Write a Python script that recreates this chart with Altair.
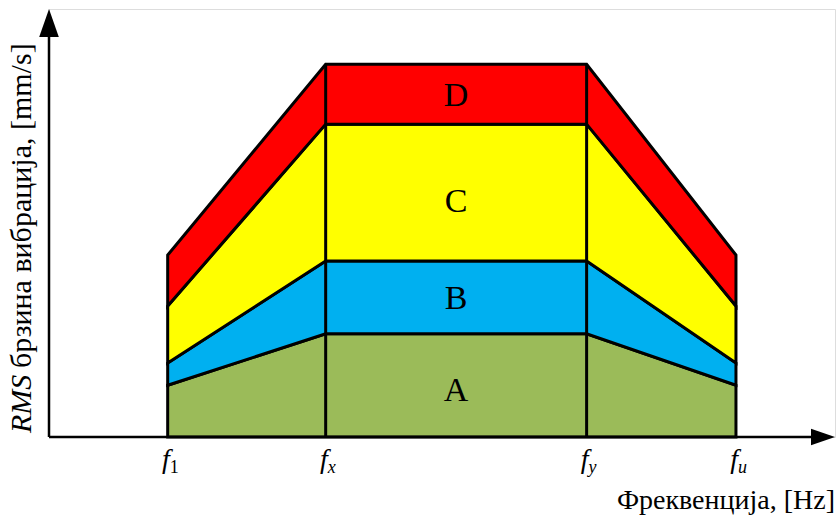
import altair as alt
import pandas as pd

# Frequency break points along the horizontal axis (axis runs 0..100)
freqs = [15.1, 35.2, 68.4, 87.4]
freq_subs = ["1", "x", "y", "u"]
sub_italic = [False, True, True, True]

# Upper boundary of each vibration zone at the four break points (axis runs 0..100)
bands = ["A", "B", "C", "D"]
band_colors = ["#9BBB59", "#00B0F0", "#FFFF00", "#FF0000"]
a_top = [12.1, 24.1, 24.1, 12.1]
b_top = [17.3, 41.1, 41.1, 17.3]
c_top = [30.6, 73.1, 73.1, 30.6]
d_top = [42.5, 87.1, 87.1, 42.5]

# Zone letters: placed midway between fx and fy, baseline height on the y scale
label_y = [8.4, 29.9, 52.6, 77.3]

FONT = "Times New Roman, Liberation Serif, serif"

tops = [a_top, b_top, c_top, d_top]
rows = []
for i, band in enumerate(bands):
    lower = [0.0] * len(freqs) if i == 0 else tops[i - 1]
    for x, lo, hi in zip(freqs, lower, tops[i]):
        rows.append({"band": band, "x": x, "lo": lo, "hi": hi, "order": i})
zones = pd.DataFrame(rows)

xs = alt.Scale(domain=[0, 100], zero=False, nice=False)
ys = alt.Scale(domain=[0, 100], zero=False, nice=False)

areas = alt.Chart(zones).mark_area(
    stroke="black", strokeWidth=3, strokeJoin="miter", opacity=1
).encode(
    x=alt.X("x:Q", scale=xs, axis=None),
    y=alt.Y("lo:Q", scale=ys, axis=None),
    y2="hi:Q",
    fill=alt.Fill("band:N", scale=alt.Scale(domain=bands, range=band_colors), legend=None),
    order="order:Q",
)

# interior dividers at fx and fy
dividers = pd.DataFrame({"x": freqs[1:3], "y0": [0, 0], "y1": d_top[1:3]})
div_rules = alt.Chart(dividers).mark_rule(color="black", strokeWidth=3).encode(
    x=alt.X("x:Q", scale=xs), y=alt.Y("y0:Q", scale=ys), y2="y1:Q"
)

# axes with arrowheads
axes_df = pd.DataFrame({"x0": [0, 0], "x1": [0, 98], "y0": [0, 0], "y1": [98, 0]})
axis_lines = alt.Chart(axes_df).mark_rule(color="black", strokeWidth=2.5).encode(
    x=alt.X("x0:Q", scale=xs), x2="x1:Q", y=alt.Y("y0:Q", scale=ys), y2="y1:Q"
)
y_arrow = alt.Chart(pd.DataFrame({"x": [0], "y": [100]})).mark_point(
    shape="M0,0L0.7,2L-0.7,2Z", size=784, filled=True, color="black", opacity=1
).encode(x=alt.X("x:Q", scale=xs), y=alt.Y("y:Q", scale=ys))
x_arrow = alt.Chart(pd.DataFrame({"x": [100], "y": [0]})).mark_point(
    shape="M0,0L-2,-0.68L-2,0.68Z", size=576, filled=True, color="black", opacity=1
).encode(x=alt.X("x:Q", scale=xs), y=alt.Y("y:Q", scale=ys))

# zone letters
mid_x = (freqs[1] + freqs[2]) / 2
letters = pd.DataFrame({"band": bands, "x": [mid_x] * 4, "y": label_y})
zone_text = alt.Chart(letters).mark_text(
    font=FONT, fontSize=34, baseline="alphabetic", align="center", color="black"
).encode(x=alt.X("x:Q", scale=xs), y=alt.Y("y:Q", scale=ys), text="band:N")

# frequency tick labels: italic f with subscript
ticks = pd.DataFrame({"x": freqs, "sub": freq_subs, "italic": sub_italic})
f_text = alt.Chart(ticks).mark_text(
    font=FONT, fontSize=28, fontStyle="italic", align="right", baseline="alphabetic", dx=2
).encode(x=alt.X("x:Q", scale=xs), y=alt.value(459), text=alt.value("f"))
sub_up = alt.Chart(ticks).transform_filter("!datum.italic").mark_text(
    font=FONT, fontSize=18, align="left", baseline="alphabetic", dx=2
).encode(x=alt.X("x:Q", scale=xs), y=alt.value(464), text="sub:N")
sub_it = alt.Chart(ticks).transform_filter("datum.italic").mark_text(
    font=FONT, fontSize=18, fontStyle="italic", align="left", baseline="alphabetic", dx=2
).encode(x=alt.X("x:Q", scale=xs), y=alt.value(464), text="sub:N")

# axis titles
x_title = alt.Chart(pd.DataFrame({"t": ["Фреквенција, [Hz]"]})).mark_text(
    font=FONT, fontSize=28, align="right", baseline="alphabetic"
).encode(x=alt.value(786), y=alt.value(500), text="t:N")
y_title_rms = alt.Chart(pd.DataFrame({"t": ["RMS"]})).mark_text(
    font=FONT, fontSize=30, fontStyle="italic", align="left", baseline="middle", angle=270
).encode(x=alt.value(-27), y=alt.value(424), text="t:N")
y_title_rest = alt.Chart(pd.DataFrame({"t": ["брзина вибрација, [mm/s]"]})).mark_text(
    font=FONT, fontSize=30, align="left", baseline="middle", angle=270
).encode(x=alt.value(-27), y=alt.value(359), text="t:N")

chart = alt.layer(
    areas, div_rules, axis_lines, y_arrow, x_arrow, zone_text,
    f_text, sub_up, sub_it, x_title, y_title_rms, y_title_rest,
).properties(
    width=786, height=428,
    autosize=alt.AutoSizeParams(type="none"),
    padding={"left": 49, "top": 9, "right": 4, "bottom": 84},
).configure_view(stroke=None).configure(background="white")

chart.save("out.html", embed_options={"renderer": "svg", "actions": False})
